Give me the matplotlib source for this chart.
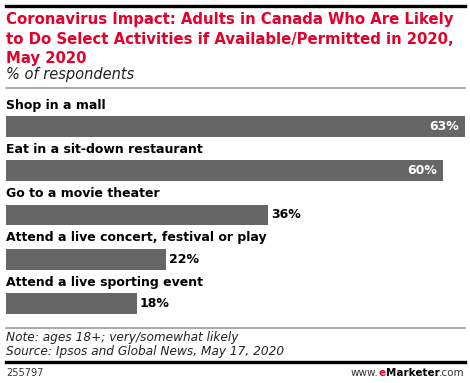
import matplotlib
matplotlib.use("Agg")
import matplotlib.pyplot as plt
from matplotlib.lines import Line2D

categories = ["Shop in a mall", "Eat in a sit-down restaurant", "Go to a movie theater",
              "Attend a live concert, festival or play", "Attend a live sporting event"]
values = [63, 60, 36, 22, 18]

title = ("Coronavirus Impact: Adults in Canada Who Are Likely\n"
         "to Do Select Activities if Available/Permitted in 2020,\n"
         "May 2020")
subtitle = "% of respondents"
note = "Note: ages 18+; very/somewhat likely"
source = "Source: Ipsos and Global News, May 17, 2020"
chart_id = "255797"

W, H = 470, 383
fig = plt.figure(figsize=(W / 100, H / 100), dpi=100)
fig.patch.set_facecolor("white")


def px(x, y):
    return x / W, 1 - y / H


def hline(y, x0, x1, color, lw):
    fig.add_artist(Line2D([x0 / W, x1 / W], [1 - y / H, 1 - y / H],
                          color=color, linewidth=lw, transform=fig.transFigure))


red = "#e4002b"
bar_color = "#666666"

# header
hline(6, 6, 465, "black", 2.4)
fig.text(*px(6, 12), title, color=red, fontsize=10.7, fontweight="bold",
         va="top", ha="left", linespacing=1.38)
fig.text(*px(6, 74), subtitle, fontsize=10.5, style="italic", va="center",
         ha="left", color="#222222")
hline(88, 6, 465, "#999999", 1.2)

# bars
ax = fig.add_axes([6 / W, 1 - 325.5 / H, 459 / W, 221 / H])
ax.barh(range(len(values)), values, height=0.475, color=bar_color)
ax.set_xlim(0, 63)
ax.set_ylim(len(values) - 0.5, -0.5)
ax.axis("off")
for i, (c, v) in enumerate(zip(categories, values)):
    ax.text(0, i - 0.48, c, fontsize=9, fontweight="bold", va="center", ha="left")
    if v > 50:
        ax.text(v - 0.8, i, f"{v}%", color="white", fontsize=9, fontweight="bold",
                va="center", ha="right")
    else:
        ax.text(v + 0.4, i, f"{v}%", color="black", fontsize=9, fontweight="bold",
                va="center", ha="left")

# footer
hline(328, 6, 465, "#999999", 1.2)
fig.text(*px(6, 337), note, fontsize=8.7, style="italic", va="center", ha="left",
         color="#222222")
fig.text(*px(6, 351), source, fontsize=8.7, style="italic", va="center", ha="left",
         color="#222222")
hline(362, 6, 465, "black", 2.4)
fig.text(*px(6, 373), chart_id, fontsize=7, va="center", ha="left", color="#333333")

# right-aligned multi-colour footer url
fig.canvas.draw()
r = fig.canvas.get_renderer()
x = 465
parts = [(".com", "#333333", "normal"), ("Marketer", "black", "bold"),
         ("e", red, "bold"), ("www.", "#333333", "normal")]
for s, col, wt in parts:
    t = fig.text(x / W, 1 - 373 / H, s, fontsize=7.5, va="center", ha="right",
                 color=col, fontweight=wt)
    x -= t.get_window_extent(renderer=r).width

fig.savefig("out.png", dpi=100, facecolor="white")
